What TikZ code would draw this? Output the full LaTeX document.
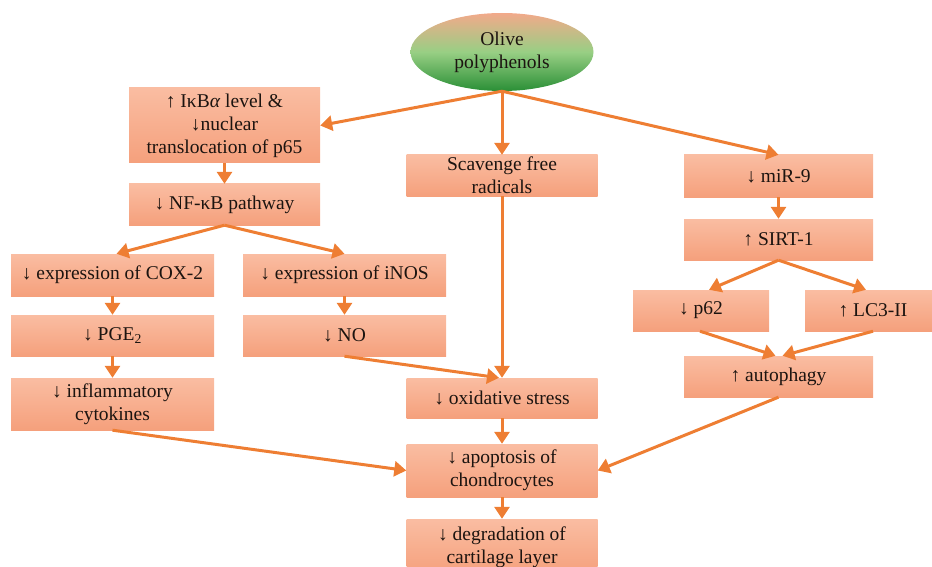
\documentclass[tikz,border=0pt]{standalone}
\usepackage{fontspec}
\setmainfont{Liberation Serif}
\usepackage{xcolor}
\usepackage{tikz}
\usetikzlibrary{arrows.meta,shapes.geometric}
\definecolor{ink}{HTML}{1C1410}
\definecolor{boxtop}{HTML}{FABDA2}
\definecolor{boxbot}{HTML}{F5A07C}
\definecolor{arr}{HTML}{EE7E33}
\definecolor{ovtop}{HTML}{F2A98A}
\definecolor{ovmid}{HTML}{98CF84}
\definecolor{ovbot}{HTML}{2A8F36}
\newcommand\nodefont{\fontsize{19.5}{23}\selectfont}
\tikzset{
  box/.style={rectangle, top color=boxtop, bottom color=boxbot, draw=none, text=ink, font=\nodefont, align=center, inner sep=0pt},
  oval/.style={ellipse, top color=ovtop, bottom color=ovbot, middle color=ovmid, draw=none, text=ink, font=\nodefont, align=center, inner sep=0pt},
  link/.style={draw=arr, line width=3pt, -{Triangle[length=12pt,width=15pt]}},
}

\begin{document}
\begin{tikzpicture}[x=1pt,y=-1pt]
  \clip (0,0) rectangle (932,567);
  \def\wa{191}
  \def\wb{203}
  \node[oval, minimum width=183, minimum height=78] (olive) at (502,52) {Olive\\polyphenols};
  \node[box, minimum width=\wa, minimum height=75] (ikb) at (224.5,125.5) {↑ IκB\textit{α} level \&\\↓nuclear\\translocation of p65};
  \node[box, minimum width=\wa, minimum height=41] (nfkb) at (224.5,204.5) {↓ NF-κB pathway};
  \node[box, minimum width=\wb, minimum height=42] (cox) at (112.5,275) {↓ expression of COX-2};
  \node[box, minimum width=\wb, minimum height=42] (inos) at (344.5,275) {↓ expression of iNOS};
  \node[box, minimum width=\wb, minimum height=41] (pge) at (112.5,335.5) {↓ PGE\textsubscript{2}};
  \node[box, minimum width=\wb, minimum height=41] (no) at (344.5,335.5) {↓ NO};
  \node[box, minimum width=\wb, minimum height=52] (infl) at (112.5,404) {↓ inflammatory\\cytokines};
  \node[box, minimum width=\wa, minimum height=41] (scav) at (502,175.5) {Scavenge free\\radicals};
  \node[box, minimum width=\wa, minimum height=40] (ox) at (502,398) {↓ oxidative stress};
  \node[box, minimum width=\wa, minimum height=53] (apo) at (502,470.5) {↓ apoptosis of\\chondrocytes};
  \node[box, minimum width=\wa, minimum height=56] (deg) at (502,547) {↓ degradation of\\cartilage layer};
  \node[box, minimum width=189, minimum height=42] (mir) at (778.5,176) {↓ miR-9};
  \node[box, minimum width=189, minimum height=41] (sirt) at (778.5,239.5) {↑ SIRT-1};
  \node[box, minimum width=136, minimum height=41] (p62) at (701,310.5) {↓ p62};
  \node[box, minimum width=136, minimum height=41] (lc3) at (873,310.5) {↑ LC3-II};
  \node[box, minimum width=189, minimum height=41] (auto) at (778.5,376.5) {↑ autophagy};
  \draw[link] (olive.south) -- (ikb.east);
  \draw[link] (olive.south) -- (scav.north);
  \draw[link] (olive.south) -- (mir.north);
  \draw[link] (ikb) -- (nfkb);
  \draw[link] (nfkb.south) -- ([xshift=4pt]cox.north);
  \draw[link] (nfkb.south) -- (inos.north);
  \draw[link] (cox) -- (pge);
  \draw[link] (pge) -- (infl);
  \draw[link] (inos) -- (no);
  \draw[link] (no.south) -- ([xshift=-3pt]ox.north);
  \draw[link] (scav) -- (ox);
  \draw[link] (infl.south) -- (apo.west);
  \draw[link] (ox) -- (apo);
  \draw[link] (auto.south) -- (apo.east);
  \draw[link] (apo) -- (deg);
  \draw[link] (mir) -- (sirt);
  \draw[link] (sirt.south) -- ([xshift=8pt]p62.north);
  \draw[link] (sirt.south) -- ([xshift=-7pt]lc3.north);
  \draw[link] ([xshift=-1pt]p62.south) -- ([xshift=-3pt]auto.north);
  \draw[link] (lc3.south) -- ([xshift=4pt]auto.north);
\end{tikzpicture}
\end{document}
